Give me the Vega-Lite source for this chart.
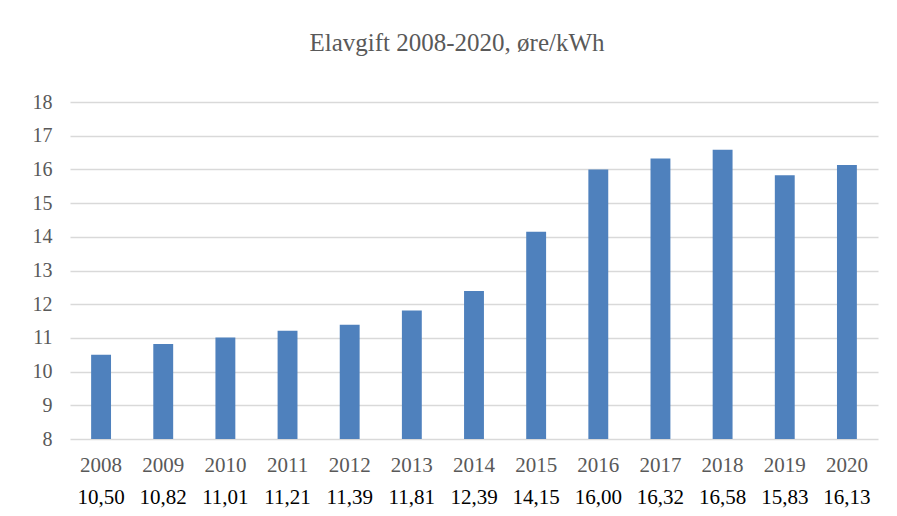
{
  "$schema": "https://vega.github.io/schema/vega-lite/v6.json",
  "autosize": "none",
  "width": 808,
  "height": 337,
  "padding": {"left": 70, "top": 102, "right": 19, "bottom": 77},
  "background": "white",
  "title": {
    "text": "Elavgift 2008-2020, øre/kWh",
    "font": "Liberation Serif",
    "fontSize": 25,
    "fontWeight": "normal",
    "color": "#595959",
    "anchor": "middle",
    "offset": 36,
    "dx": -17
  },
  "config": {
    "view": {"stroke": null},
    "font": "Liberation Serif",
    "axis": {"labelFont": "Liberation Serif", "labelFontWeight": "normal"}
  },
  "data": {
    "values": [
      {"cat": "2008|10,50", "value": 10.50},
      {"cat": "2009|10,82", "value": 10.82},
      {"cat": "2010|11,01", "value": 11.01},
      {"cat": "2011|11,21", "value": 11.21},
      {"cat": "2012|11,39", "value": 11.39},
      {"cat": "2013|11,81", "value": 11.81},
      {"cat": "2014|12,39", "value": 12.39},
      {"cat": "2015|14,15", "value": 14.15},
      {"cat": "2016|16,00", "value": 16.00},
      {"cat": "2017|16,32", "value": 16.32},
      {"cat": "2018|16,58", "value": 16.58},
      {"cat": "2019|15,83", "value": 15.83},
      {"cat": "2020|16,13", "value": 16.13}
    ]
  },
  "layer": [
    {
      "mark": {"type": "bar", "color": "#4F81BD"},
      "encoding": {
        "x": {
          "field": "cat", "type": "nominal", "sort": null,
          "scale": {"paddingInner": 0.68, "paddingOuter": 0.34},
          "axis": {
            "orient": "bottom",
            "title": null, "labelAngle": 0, "domain": false, "ticks": false,
            "labelExpr": "split(datum.label, '|')[0]",
            "labelFontSize": 21, "labelColor": "#595959",
            "labelPadding": 15
          }
        },
        "y": {
          "field": "value", "type": "quantitative",
          "scale": {"domain": [8, 18], "zero": false, "nice": false},
          "axis": {
            "title": null, "values": [8, 9, 10, 11, 12, 13, 14, 15, 16, 17, 18],
            "domain": false, "ticks": false, "labelPadding": 18, "labelOverlap": false,
            "labelFontSize": 20, "labelColor": "#595959",
            "gridColor": "#D9D9D9", "gridWidth": 1.5
          }
        },
        "y2": {"datum": 8}
      }
    },
    {
      "mark": {"type": "rule", "opacity": 0},
      "encoding": {
        "x": {
          "field": "cat", "type": "nominal", "sort": null,
          "scale": {"paddingInner": 0.68, "paddingOuter": 0.34},
          "axis": {
            "orient": "bottom",
            "title": null, "labelAngle": 0, "domain": false, "ticks": false, "grid": false,
            "labelExpr": "split(datum.label, '|')[1]",
            "labelFontSize": 21, "labelColor": "#000000",
            "labelPadding": 47
          }
        }
      }
    }
  ],
  "resolve": {"axis": {"x": "independent"}}
}
